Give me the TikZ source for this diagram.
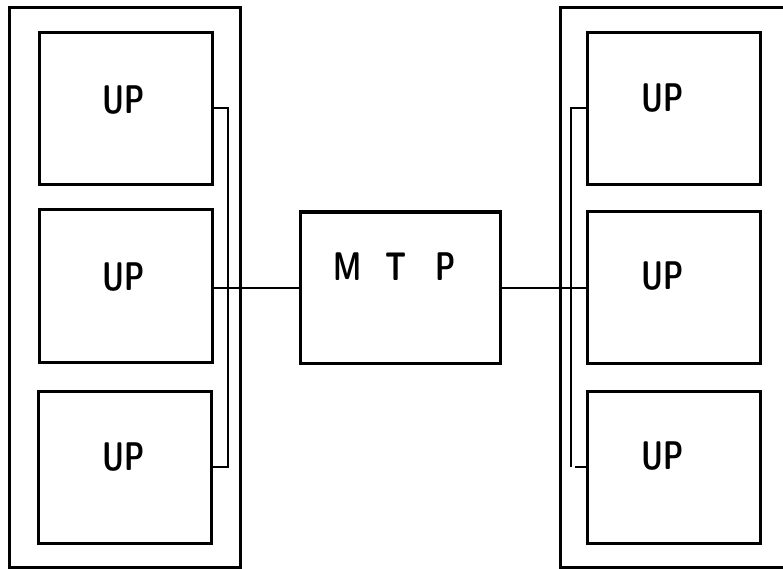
\documentclass[tikz,border=0pt]{standalone}
\usetikzlibrary{calc}
\tikzset{
  unit/.style={draw, line width=3pt, minimum width=173pt, minimum height=152pt, inner sep=0pt},
  frame/.style={draw, line width=3pt},
  wire/.style={line width=2pt},
  lbl/.style={font=\sffamily\bfseries\fontsize{40}{40}\selectfont, xscale=0.72, inner sep=0pt},
}
\begin{document}
\begin{tikzpicture}[x=1pt, y=-1pt]
\fill[white] (0,0) rectangle (783,569);
\useasboundingbox (0,0) rectangle (783,569);

% left cabinet
\draw[frame] (9,8) rectangle (240,567);
\node[unit] (l1) at (125.5,109) {};
\node[unit] (l2) at (125.5,286) {};
\node[unit] (l3) at (125,467) {};
\node[lbl] (l1t) at (124,100) {UP};
\node[lbl] (l2t) at (124,277) {UP};
\node[lbl] (l3t) at (124,457) {UP};

% right cabinet (open to the right)
\draw[frame] (783,8) -- (560,8) -- (560,567) -- (783,567);
\node[unit] (r1) at (673.5,109) {};
\node[unit] (r2) at (673.5,287.5) {};
\node[unit] (r3) at (673.5,467) {};
\node[lbl] (r1t) at (663,98) {UP};
\node[lbl] (r2t) at (663,276) {UP};
\node[lbl] (r3t) at (663,456) {UP};

% central MTP unit
\node[draw, line width=3pt, minimum width=200pt, minimum height=151pt, inner sep=0pt] (mtp) at (400,287.5) {};
\node[lbl] (m) at (348,267) {M};
\node[lbl] (t) at (396,267) {T};
\node[lbl] (p) at (446,267) {P};

% left bus
\coordinate (lb1) at (228,108);
\coordinate (lb3) at (228,467);
\draw[wire] (l1.east |- lb1) -- (lb1) -- (lb3) -- (l3.east |- lb3);
\draw[wire] (l2.east |- mtp.west) -- (mtp.west);

% right bus
\coordinate (rb1) at (571,108);
\coordinate (rb3) at (571,467);
\draw[wire] (r1.west |- rb1) -- (rb1) -- (rb3);
\draw[wire] (575,467) -- (r3.west |- rb3);
\draw[wire] (mtp.east) -- (r2.west |- mtp.east);
\end{tikzpicture}
\end{document}
